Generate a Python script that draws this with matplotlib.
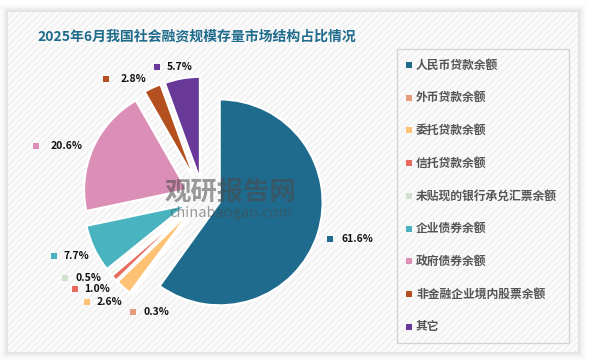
import numpy as np
import matplotlib
matplotlib.use("Agg")
import matplotlib.pyplot as plt
from matplotlib.patches import Rectangle

plt.rcParams['font.family'] = ['Noto Sans CJK SC', 'DejaVu Sans']

title = "2025年6月我国社会融资规模存量市场结构占比情况"
categories = ["人民币贷款余额", "外币贷款余额", "委托贷款余额", "信托贷款余额",
              "未贴现的银行承兑汇票余额", "企业债券余额", "政府债券余额",
              "非金融企业境内股票余额", "其它"]
values = [61.6, 0.3, 2.6, 1.0, 0.5, 7.7, 20.6, 2.8, 5.7]
labels = ["61.6%", "0.3%", "2.6%", "1.0%", "0.5%", "7.7%", "20.6%", "2.8%", "5.7%"]
colors = ["#1e6b8e", "#e89a7c", "#fdc274", "#e86b60", "#d0e2cf",
          "#49b3bf", "#dc8fb6", "#b4501f", "#69399a"]

W, H = 589, 364
fig = plt.figure(figsize=(W / 100, H / 100), dpi=100)
fig.patch.set_facecolor("white")

# background card with shadow and hatch
bg = fig.add_axes([0, 0, 1, 1])
bg.set_xlim(0, W)
bg.set_ylim(H, 0)
bg.axis("off")
for i, a in enumerate([0.015, 0.02, 0.03, 0.04]):
    d = 8 - 2 * i
    bg.add_patch(Rectangle((8 - d, 12 - d), 570 + 2 * d, 340 + 2 * d,
                           facecolor="#000000", alpha=a, lw=0))
bg.add_patch(Rectangle((8, 12), 570, 340, facecolor="#fbfbfb", lw=0))
bg.add_patch(Rectangle((8, 12), 570, 340, facecolor="none", edgecolor="#efefef",
                       hatch="/////", lw=0))

fig.text(37 / W, 1 - 37 / H, title, fontsize=10, fontweight="bold",
         color="#1f6b8c", va="center", ha="left")

# pie axes: center at (203,197) px, radius 103 px
R = 103
cx, cy = 203, 197
half = 170
ax = fig.add_axes([(cx - half) / W, 1 - (cy + half) / H, 2 * half / W, 2 * half / H])
explode = [0.17] * len(values)
wedges, _ = ax.pie(values, colors=colors, startangle=90, counterclock=False,
                   explode=explode, radius=1,
                   wedgeprops=dict(edgecolor="white", linewidth=1.6))
ax.set_aspect("auto")
ax.set_xlim(-half / R, half / R)
ax.set_ylim(-half / R, half / R)
ax.axis("off")

# watermark
ax.text(0.27, 0.04, "观研报告网", fontsize=19, fontweight="bold", color="#4a4a4a",
        alpha=0.55, ha="center", va="center", zorder=5)
ax.text(0.27, -0.155, "chinabaogao.com", fontsize=10.5, color="#4a4a4a",
        alpha=0.55, ha="center", va="center", zorder=5)

# overlay for labels and legend
top = fig.add_axes([0, 0, 1, 1])
top.set_xlim(0, W)
top.set_ylim(H, 0)
top.axis("off")
top.patch.set_alpha(0)

label_pos = [(330, 239), (133, 312), (87, 302), (75, 289), (65, 278),
             (54, 256), (36, 146), (106, 79), (157, 67)]
text_gap = [11, 10, 10, 9, 10, 9, 15, 15, 10]
for lab, c, (px, py), g in zip(labels, colors, label_pos, text_gap):
    top.add_patch(Rectangle((px - 3, py - 3), 6, 6, facecolor=c, lw=0))
    top.text(px + g, py, lab, fontsize=7.5, fontweight="bold", color="#111111",
             va="center", ha="left")

# legend box
top.add_patch(Rectangle((397, 49), 172, 294, facecolor="none",
                        edgecolor="#d4d4d4", lw=1))
for i, (cat, c) in enumerate(zip(categories, colors)):
    y = 65 + i * 32.7
    top.add_patch(Rectangle((406, y - 3), 6, 6, facecolor=c, lw=0))
    top.text(416, y, cat, fontsize=8.5, fontweight="bold", color="#555555",
             va="center", ha="left")

fig.savefig("out.png", dpi=100)
